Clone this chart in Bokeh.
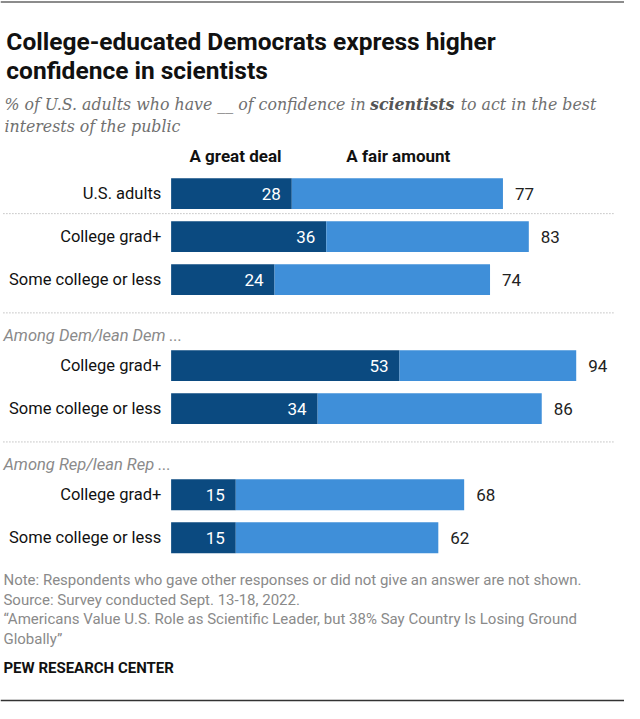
from bokeh.plotting import figure
from bokeh.models import Range1d
from bokeh.core.properties import value
from bokeh.embed import file_html
from bokeh.resources import INLINE

# data
row_labels = ["U.S. adults", "College grad+", "Some college or less",
              "College grad+", "Some college or less",
              "College grad+", "Some college or less"]
row_group = ["all", "all", "all", "dem", "dem", "rep", "rep"]
group_titles = {"dem": "Among Dem/lean Dem ...", "rep": "Among Rep/lean Rep ..."}
great_deal = [28, 36, 24, 53, 34, 15, 15]
net_confidence = [77, 83, 74, 94, 86, 68, 62]
series_names = ["A great deal", "A fair amount"]

title_lines = ["College-educated Democrats express higher", "confidence in scientists"]
note_lines = [
    "Note: Respondents who gave other responses or did not give an answer are not shown.",
    "Source: Survey conducted Sept. 13-18, 2022.",
    "\u201cAmericans Value U.S. Role as Scientific Leader, but 38% Say Country Is Losing Ground",
    "Globally\u201d",
]

DARK = "#0b4a80"
LIGHT = "#3f8fd9"
GRAY = "#8a8a8a"
FONT = "Roboto"

# layout is laid out on a 640x719 grid, scaled into the figure
X0 = 175
PPU = 4.42
W, H = 624, 703


def px(x):
    return (x - X0) / PPU


p = figure(width=W, height=H, output_backend="svg", toolbar_location=None,
           x_range=Range1d(px(0), px(640)), y_range=Range1d(719, 0),
           x_axis_type=None, y_axis_type=None, min_border=0)
p.grid.visible = False
p.outline_line_color = None

# row layout
ys = []
dots = []
heads = []
y = 197.5
for i, g in enumerate(row_group):
    if i > 0:
        if g != row_group[i - 1] and g in group_titles:
            dots.append(y + 34)
            heads.append((y + 57.5, group_titles[g]))
            y += 88
        else:
            if i == 1:
                dots.append(y + 20.5)
            y += 44
    ys.append(y)

BAR_H = 31.5
p.hbar(y=ys, left=0, right=great_deal, height=BAR_H, fill_color=DARK, line_color=None)
p.hbar(y=ys, left=great_deal, right=net_confidence, height=BAR_H, fill_color=LIGHT, line_color=None)

p.text(x=great_deal, y=ys, text=[str(v) for v in great_deal], x_offset=-11,
       text_align="right", text_baseline="middle", text_color="white",
       text_font=value(FONT), text_font_size="17px")
p.text(x=net_confidence, y=ys, text=[str(v) for v in net_confidence], x_offset=12,
       text_align="left", text_baseline="middle", text_color="#222222",
       text_font=value(FONT), text_font_size="17px")
p.text(x=[px(165)] * len(ys), y=ys, text=row_labels, text_align="right",
       text_baseline="middle", text_color="#111111",
       text_font=value(FONT), text_font_size="16.5px")

# separators and group titles
p.segment(x0=[px(3)] * len(dots), x1=[px(630)] * len(dots), y0=dots, y1=dots,
          line_color="#a0a0a0", line_width=1, line_dash="1 2")
p.text(x=[px(3)] * len(heads), y=[h[0] for h in heads], text=[h[1] for h in heads],
       text_baseline="middle", text_color=GRAY, text_font_style="italic",
       text_font=value(FONT), text_font_size="16.5px")

# column headers
p.text(x=[px(241), px(408)], y=[159, 159], text=series_names, text_align="center",
       text_baseline="middle", text_color="#111111", text_font_style="bold",
       text_font=value(FONT), text_font_size="17px")

# title and subtitle
p.text(x=[px(6), px(6)], y=[41.7, 71.7], text=title_lines, text_baseline="alphabetic",
       text_color="#111111", text_font_style="bold",
       text_font=value(FONT), text_font_size="24.5px")
sub_font = value("DejaVu Serif")
SUB_SIZE = "15.8px"
p.text(x=[px(4)], y=[106], text=["% of U.S. adults who have __ of confidence in"],
       text_baseline="alphabetic", text_color="#707070", text_font_style="italic",
       text_font=sub_font, text_font_size=SUB_SIZE)
p.text(x=[px(379)], y=[106], text=["scientists"],
       text_baseline="alphabetic", text_color="#555555", text_font_style="bold italic",
       text_font=sub_font, text_font_size=SUB_SIZE)
p.text(x=[px(472)], y=[106], text=["to act in the best"],
       text_baseline="alphabetic", text_color="#707070", text_font_style="italic",
       text_font=sub_font, text_font_size=SUB_SIZE)
p.text(x=[px(4)], y=[129], text=["interests of the public"],
       text_baseline="alphabetic", text_color="#707070", text_font_style="italic",
       text_font=sub_font, text_font_size=SUB_SIZE)

# footer
p.text(x=[px(3)] * len(note_lines), y=[593 + 20 * i for i in range(len(note_lines))],
       text=note_lines, text_baseline="middle", text_color=GRAY,
       text_font=value(FONT), text_font_size="15px")
p.text(x=[px(3)], y=[683], text=["PEW RESEARCH CENTER"], text_baseline="middle",
       text_color="#111111", text_font_style="bold",
       text_font=value(FONT), text_font_size="15px")

# top and bottom rules
p.segment(x0=[px(0)], x1=[px(640)], y0=[1.5], y1=[1.5], line_color="#8c8c8c", line_width=2)
p.segment(x0=[px(0)], x1=[px(640)], y0=[716], y1=[716], line_color="#333333", line_width=1.5)

open("out.html", "w").write(file_html(p, INLINE))
